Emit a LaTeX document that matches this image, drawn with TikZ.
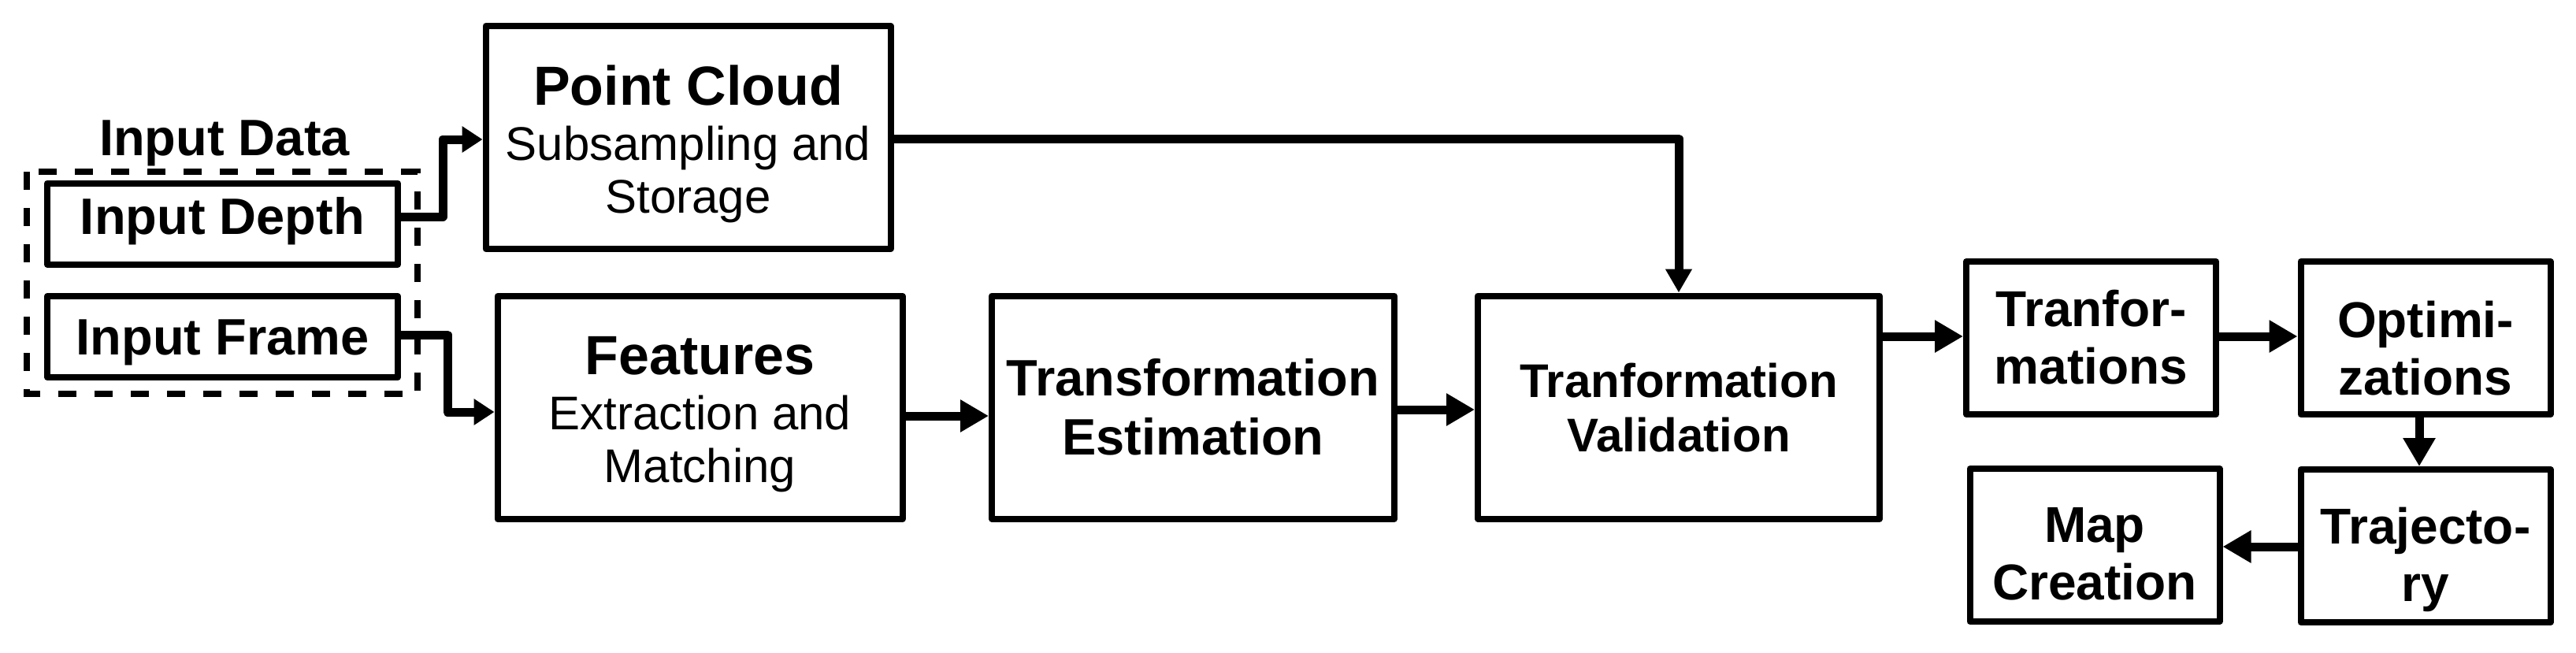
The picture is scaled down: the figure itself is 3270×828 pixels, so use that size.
\documentclass[tikz,border=0pt]{standalone}
\usepackage{fontspec}
\setmainfont{Liberation Sans}
\usetikzlibrary{arrows.meta}
\newcommand{\ustrut}[1][22pt]{\rule{0pt}{#1}}
\newcommand{\dstrut}[1]{\rule[-#1]{0pt}{#1}}
\tikzset{
  blk/.style={draw, line width=2pt, line join=round, inner sep=0pt, align=center},
  bigbox/.style={blk, minimum width=128.5pt, minimum height=70.75pt},
  inbox/.style={blk, minimum width=111.25pt, minimum height=25.75pt,
                font=\fontsize{16.25}{18}\selectfont\bfseries},
  smallbox/.style={blk, minimum width=79.25pt, minimum height=48.5pt,
                font=\fontsize{16}{18.25}\selectfont\bfseries},
  dashbox/.style={draw, line width=2pt, dash pattern=on 5.75pt off 5.75pt},
  conn/.style={line width=2.75pt, line join=round},
  bigtip/.style={conn, -{Triangle[length=9pt, width=9.75pt]}},
  smalltip/.style={conn, -{Triangle[length=6.5pt, width=8pt]}},
  midtip/.style={conn, -{Triangle[length=7.5pt, width=8pt]}},
}
\begin{document}
\begin{tikzpicture}[x=0.25pt, y=-0.25pt]
\useasboundingbox (0,0) rectangle (3270,828);

% input group
\draw[dashbox] (34,218) rectangle (530,500);
\node[font=\fontsize{16.25}{18}\selectfont\bfseries, anchor=base] (indata) at (285,197) {Input Data};
\node[inbox] (depth) at (282.5,284) {\ustrut[12.5pt]Input Depth\dstrut{6pt}};
\node[inbox] (frame) at (282.5,427.5) {\ustrut[15pt]Input Frame\dstrut{3.75pt}};

% big boxes
\node[bigbox, font=\fontsize{15}{16.75}\selectfont] (pc) at (873.5,174.5)
  {\ustrut{\fontsize{17.5}{17.5}\selectfont\bfseries Point Cloud}\\[0.75pt]Subsampling and\\Storage\dstrut{8.5pt}};
\node[bigbox, font=\fontsize{15}{16.75}\selectfont] (feat) at (888.5,517.5)
  {\ustrut{\fontsize{17.5}{17.5}\selectfont\bfseries Features}\\[0.75pt]Extraction and\\Matching\dstrut{9pt}};
\node[bigbox, minimum width=127.75pt, font=\fontsize{16.25}{18.75}\selectfont\bfseries] (est) at (1514.5,517)
  {\ustrut Transformation\\Estimation\dstrut{10.75pt}};
\node[bigbox, minimum width=127.5pt, font=\fontsize{15}{17.25}\selectfont\bfseries] (val) at (2131,517)
  {\ustrut Tranformation\\Validation\dstrut{11.25pt}};

% small boxes
\node[smallbox] (tr) at (2654.5,429) {\ustrut[14pt]Tranfor-\\mations\dstrut{3.25pt}};
\node[smallbox] (opt) at (3079,429) {\ustrut Optimi-\\zations\dstrut{4.1pt}};
\node[smallbox] (traj) at (3079,693) {\ustrut Trajecto-\\ry\dstrut{4.9pt}};
\node[smallbox] (map) at (2659,692) {\ustrut Map\\Creation\dstrut{5.6pt}};

% bend points
\coordinate (jd) at (562,226);
\coordinate (jf) at (568,474);

% connectors
\draw[smalltip] (depth.east |- 0,275) -| (jd) |- (pc.west |- 0,177);
\draw[smalltip] (frame.east |- 0,425) -| (jf) |- (feat.west |- 0,523);
\draw[midtip] (pc.east |- 0,176) -| (val.north);
\draw[bigtip] (feat.east |- 0,528) -- (est.west |- 0,528);
\draw[bigtip] (est.east |- 0,520) -- (val.west |- 0,520);
\draw[bigtip] (val.east |- 0,427) -- (tr.west |- 0,427);
\draw[bigtip] (tr.east |- 0,427) -- (opt.west |- 0,427);
\draw[bigtip] (opt.south -| 3071,0) -- (traj.north -| 3071,0);
\draw[bigtip] (traj.west |- 0,694) -- (map.east |- 0,694);
\end{tikzpicture}
\end{document}
